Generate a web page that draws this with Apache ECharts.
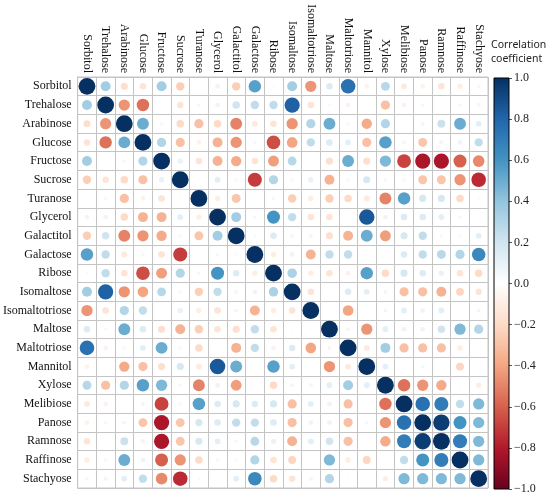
<!DOCTYPE html>
<html>
<head>
<meta charset="utf-8">
<script src="https://cdn.jsdelivr.net/npm/echarts@6/dist/echarts.min.js"></script>
<style>html,body{margin:0;padding:0;background:#fff}#c{width:550px;height:497px}</style>
</head>
<body>
<div id="c"></div>
<script>
const variables = ["Sorbitol","Trehalose","Arabinose","Glucose","Fructose","Sucrose","Turanose","Glycerol","Galactitol","Galactose","Ribose","Isomaltose","Isomaltotriose","Maltose","Maltotriose","Mannitol","Xylose","Melibiose","Panose","Ramnose","Raffinose","Stachyose"];

// Upper triangle of the correlation matrix: row i holds r(i, j) for j = i+1 .. 21
const upperTriangle = [
  [0.35,-0.18,-0.15,0.35,-0.25,0.0,0.08,-0.25,0.55,0.03,0.35,-0.45,0.15,0.75,-0.08,0.28,-0.12,-0.08,-0.15,-0.1,0.05],
  [-0.45,-0.55,0.02,-0.15,-0.05,0.08,0.2,0.25,0.25,0.82,-0.15,0.04,-0.08,0.0,-0.3,-0.08,0.05,0.0,0.05,0.06],
  [0.5,-0.05,-0.2,-0.3,-0.2,-0.5,-0.12,-0.15,-0.45,0.3,0.5,0.05,-0.38,0.3,0.0,0.06,0.22,0.5,0.12],
  [0.3,-0.3,-0.08,-0.35,-0.45,0.05,-0.65,-0.4,0.25,0.15,0.12,-0.3,0.55,-0.06,-0.28,-0.07,0.08,0.25],
  [0.1,-0.15,-0.35,-0.38,-0.15,-0.42,0.28,0.02,-0.18,0.5,-0.18,0.45,-0.68,-0.82,-0.82,-0.6,-0.48],
  [0.02,0.12,0.05,-0.7,0.3,0.05,0.1,-0.35,-0.05,0.18,-0.05,-0.05,-0.28,-0.28,-0.45,-0.75],
  [-0.1,-0.28,0.0,0.05,-0.25,-0.1,-0.25,-0.2,-0.12,-0.5,0.55,0.18,0.18,-0.2,0.03],
  [0.35,0.05,0.6,0.25,-0.15,-0.15,0.0,0.85,0.08,0.15,0.15,0.12,-0.05,0.0],
  [0.04,0.15,0.06,0.06,-0.18,-0.35,0.5,-0.42,0.18,0.25,0.05,-0.04,0.12],
  [-0.1,0.08,-0.35,0.25,0.25,0.0,0.02,0.15,0.25,0.28,0.3,0.65],
  [0.32,-0.1,-0.15,-0.08,0.55,-0.2,0.18,0.15,0.1,-0.15,-0.2],
  [-0.15,0.02,0.15,0.12,0.06,-0.3,-0.3,-0.35,-0.22,-0.15],
  [0.02,-0.4,0.02,-0.06,0.12,0.08,0.12,0.0,-0.06],
  [-0.06,-0.45,0.12,0.08,0.08,0.2,0.45,0.3],
  [-0.12,0.35,-0.3,-0.3,-0.3,-0.1,0.02],
  [0.12,0.0,0.05,0.0,-0.22,0.02],
  [-0.55,-0.45,-0.38,0.02,-0.1],
  [0.75,0.7,0.25,0.45],
  [0.95,0.6,0.45],
  [0.7,0.45],
  [0.45]
];

const colorbarTicks = [-1,-0.8,-0.6,-0.4,-0.2,0,0.2,0.4,0.6,0.8,1];
const palette = ["#67001F","#B2182B","#D6604D","#F4A582","#FDDBC7","#FFFFFF","#D1E5F0","#92C5DE","#4393C3","#2166AC","#053061"];

const n = variables.length;
function corr(i, j) {
  if (i === j) return 1;
  const a = Math.min(i, j), b = Math.max(i, j);
  return upperTriangle[a][b - a - 1];
}
const points = [];
for (let i = 0; i < n; i++) for (let j = 0; j < n; j++) points.push([j, i, corr(i, j)]);

const gridLeft = 77, gridTop = 77, gridSize = 411;
const cell = gridSize / n;
const serif = "Liberation Serif";

const chart = echarts.init(document.getElementById('c'));
chart.setOption({
  animation: false,
  backgroundColor: '#fff',
  grid: [
    {left: gridLeft, top: gridTop, width: gridSize, height: gridSize, show: true, borderColor: '#c4c4c4', borderWidth: 1, backgroundColor: '#fff'},
    {left: 494, top: 78, width: 15, height: 411}
  ],
  xAxis: [
    {type: 'category', data: variables, position: 'top', gridIndex: 0,
     axisLine: {show: true, lineStyle: {color: '#c4c4c4'}}, axisTick: {show: false},
     axisLabel: {rotate: 90, interval: 0, margin: 4, fontFamily: serif, fontSize: 12, color: '#111'},
     splitLine: {show: true, interval: 0, lineStyle: {color: '#c4c4c4', width: 1}}},
    {type: 'category', data: ['c'], gridIndex: 1, show: false}
  ],
  yAxis: [
    {type: 'category', data: variables, inverse: true, gridIndex: 0,
     axisLine: {show: true, lineStyle: {color: '#c4c4c4'}}, axisTick: {show: false},
     axisLabel: {interval: 0, margin: 6, fontFamily: serif, fontSize: 12, color: '#111'},
     splitLine: {show: true, interval: 0, lineStyle: {color: '#c4c4c4', width: 1}}},
    {type: 'value', gridIndex: 1, min: colorbarTicks[0], max: colorbarTicks[colorbarTicks.length - 1], interval: 0.2, position: 'right',
     axisLine: {show: false}, splitLine: {show: false},
     axisTick: {show: true, length: 3, inside: false, lineStyle: {color: '#555'}},
     axisLabel: {margin: 5, fontFamily: serif, fontSize: 12, color: '#222',
       formatter: v => (v < -1e-9 ? '\u2212' : '') + Math.abs(v).toFixed(1)}}
  ],
  visualMap: {show: false, type: 'continuous', min: -1, max: 1, dimension: 2, seriesIndex: 0, inRange: {color: palette}},
  graphic: [
    {type: 'text', left: 491, top: 38, style: {text: 'Correlation\ncoefficient', font: '10.5px "Noto Sans"', fill: '#222', lineHeight: 14}}
  ],
  series: [
    {type: 'scatter', xAxisIndex: 0, yAxisIndex: 0, data: points,
     symbolSize: v => 0.9 * cell * Math.sqrt(Math.abs(v[2])), itemStyle: {opacity: 1}},
    {type: 'custom', xAxisIndex: 1, yAxisIndex: 1, data: [[0, 1]],
     renderItem: function (params, api) {
       const top = api.coord([0, 1]);
       const bot = api.coord([0, -1]);
       const w = 15;
       const stops = palette.slice().reverse().map((c, k) => ({offset: k / (palette.length - 1), color: c}));
       return {type: 'rect', shape: {x: top[0] - w / 2, y: top[1], width: w, height: bot[1] - top[1]},
         style: {fill: {type: 'linear', x: 0, y: 0, x2: 0, y2: 1, colorStops: stops}, stroke: '#000', lineWidth: 1}};
     }}
  ]
});
</script>
</body>
</html>
